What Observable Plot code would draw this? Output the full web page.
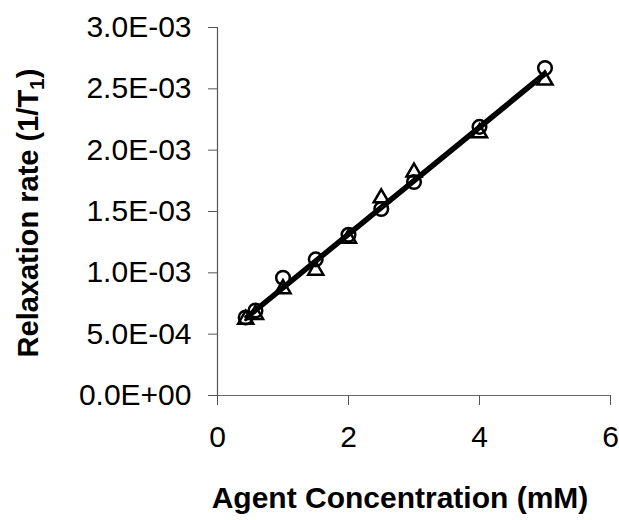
<!DOCTYPE html>
<html>
<head>
<meta charset="utf-8">
<script src="https://cdn.jsdelivr.net/npm/d3@7"></script>
<script src="https://cdn.jsdelivr.net/npm/@observablehq/plot@0.6"></script>
<style>
  html, body { margin: 0; padding: 0; background: #fff; }
  #chart svg { display: block; }
</style>
</head>
<body>
<div id="chart"></div>
<script>
// Agent concentration (mM)
const concentration = [0.43, 0.58, 1.0, 1.5, 2.0, 2.5, 3.0, 4.0, 5.0];
// Relaxation rate (1/T1), circle series
const circleRates = [6.36e-4, 6.93e-4, 9.6e-4, 1.11e-3, 1.31e-3, 1.52e-3, 1.74e-3, 2.19e-3, 2.67e-3];
// Relaxation rate (1/T1), triangle series
const triangleRates = [6.2e-4, 6.6e-4, 8.7e-4, 1.02e-3, 1.28e-3, 1.61e-3, 1.82e-3, 2.14e-3, 2.57e-3];

const yTicks = [0, 5e-4, 1e-3, 1.5e-3, 2e-3, 2.5e-3, 3e-3];
const yTickLabels = ["0.0E+00", "5.0E-04", "1.0E-03", "1.5E-03", "2.0E-03", "2.5E-03", "3.0E-03"];
const xTicks = [0, 2, 4, 6];
const xTickLabels = ["0", "2", "4", "6"];

const circles = concentration.map((c, i) => ({x: c, y: circleRates[i]}));
const triangles = concentration.map((c, i) => ({x: c, y: triangleRates[i]}));

const fontFam = "'Liberation Sans', Arial, sans-serif";

const plot = Plot.plot({
  width: 619,
  height: 520,
  marginLeft: 217,
  marginRight: 9,
  marginTop: 27,
  marginBottom: 125,
  style: {fontFamily: fontFam, background: "#fff", color: "#000"},
  x: {domain: [0, 6]},
  y: {domain: [0, 0.003]},
  marks: [
    Plot.ruleY([0], {x1: 0, x2: 6, stroke: "#666", strokeWidth: 1.2}),
    Plot.ruleX([0], {y1: 0, y2: 0.003, stroke: "#555", strokeWidth: 1.2}),
    Plot.axisX({
      ticks: xTicks,
      tickFormat: (d) => xTickLabels[xTicks.indexOf(d)],
      tickSize: 10,
      tickPadding: 20,
      fontSize: 30,
      stroke: "#555",
      label: null
    }),
    Plot.axisY({
      ticks: yTicks,
      tickFormat: (d) => yTickLabels[yTicks.indexOf(d)],
      tickSize: 9,
      tickPadding: 17,
      fontSize: 30,
      stroke: "#555",
      label: null
    }),
    Plot.linearRegressionY(circles, {x: "x", y: "y", stroke: "#000", strokeWidth: 3, ci: 0}),
    Plot.linearRegressionY(triangles, {x: "x", y: "y", stroke: "#000", strokeWidth: 3, ci: 0}),
    Plot.dot(triangles, {x: "x", y: "y", symbol: "triangle", r: 5.6, stroke: "#000", strokeWidth: 2.5, fill: "none"}),
    Plot.dot(circles, {x: "x", y: "y", symbol: "circle", r: 6.8, stroke: "#000", strokeWidth: 2.5, fill: "none"})
  ]
});

const svg = d3.select(plot);
// X axis title
svg.append("text")
  .attr("x", 400)
  .attr("y", 508)
  .attr("text-anchor", "middle")
  .attr("font-family", fontFam)
  .attr("font-weight", "bold")
  .attr("font-size", 30)
  .attr("fill", "#000")
  .text("Agent Concentration (mM)");

// Y axis title with subscript
const yt = svg.append("text")
  .attr("transform", "translate(38,213) rotate(-90)")
  .attr("text-anchor", "middle")
  .attr("font-family", fontFam)
  .attr("font-weight", "bold")
  .attr("font-size", 29)
  .attr("fill", "#000");
yt.append("tspan").text("Relaxation rate (1/T");
yt.append("tspan").attr("font-size", 21).attr("dy", 6).text("1");
yt.append("tspan").attr("dy", -6).text(")");

document.getElementById("chart").appendChild(plot);
</script>
</body>
</html>
